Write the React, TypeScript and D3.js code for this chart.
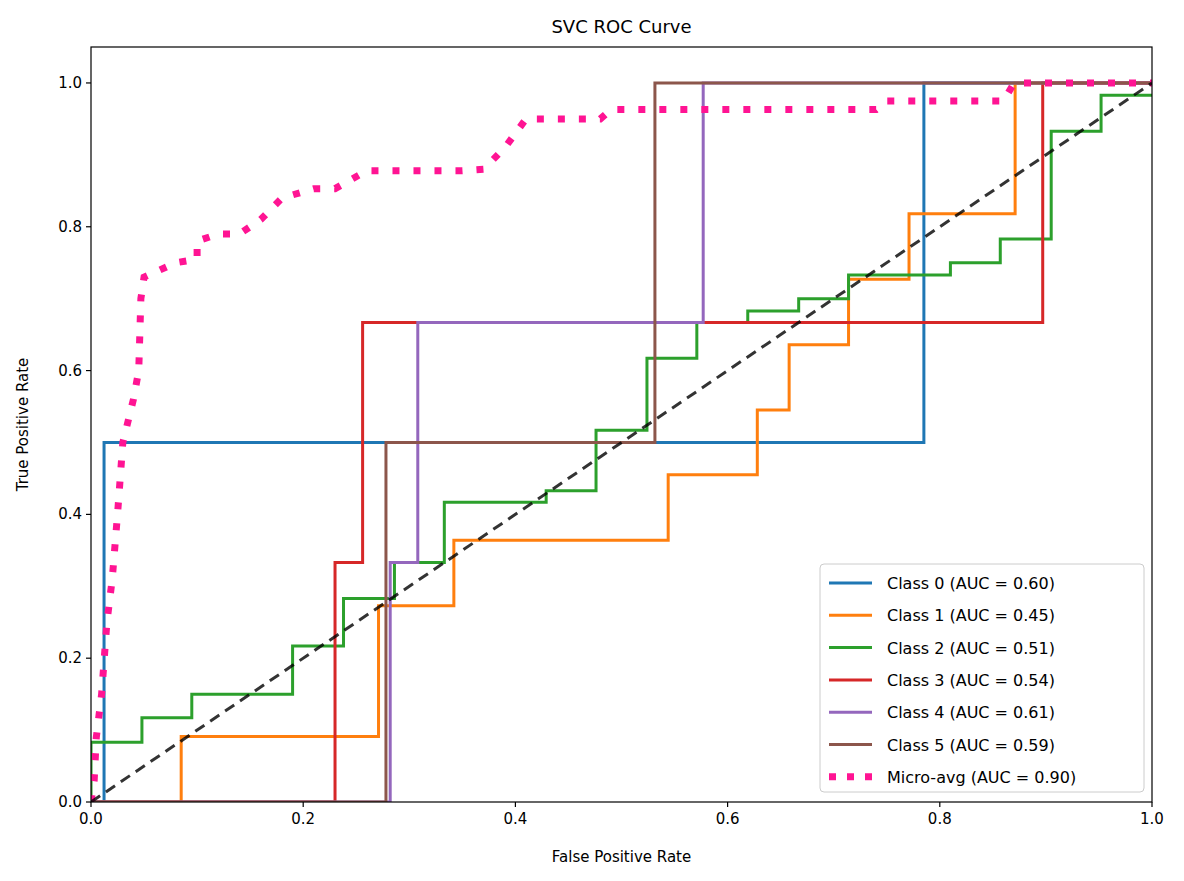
import * as d3 from 'd3';

type Pt = [number, number];

const classNames = ['Class 0', 'Class 1', 'Class 2', 'Class 3', 'Class 4', 'Class 5'];
const classAuc = [0.6, 0.45, 0.51, 0.54, 0.61, 0.59];
const classColors = ['#1f77b4', '#ff7f0e', '#2ca02c', '#d62728', '#9467bd', '#8c564b'];

const class0: Pt[] = [[0, 0], [0.0123, 0], [0.0123, 0.5], [0.785, 0.5], [0.785, 1], [1, 1]];
const class1: Pt[] = [[0, 0], [0.085, 0], [0.085, 0.091], [0.271, 0.091], [0.271, 0.273], [0.342, 0.273], [0.342, 0.364], [0.544, 0.364], [0.544, 0.455], [0.628, 0.455], [0.628, 0.545], [0.658, 0.545], [0.658, 0.636], [0.714, 0.636], [0.714, 0.727], [0.771, 0.727], [0.771, 0.818], [0.871, 0.818], [0.871, 1], [1, 1]];
const class2: Pt[] = [[0, 0], [0, 0.083], [0.048, 0.083], [0.048, 0.117], [0.095, 0.117], [0.095, 0.15], [0.19, 0.15], [0.19, 0.217], [0.238, 0.217], [0.238, 0.283], [0.286, 0.283], [0.286, 0.333], [0.333, 0.333], [0.333, 0.417], [0.429, 0.417], [0.429, 0.433], [0.476, 0.433], [0.476, 0.517], [0.524, 0.517], [0.524, 0.617], [0.571, 0.617], [0.571, 0.667], [0.619, 0.667], [0.619, 0.683], [0.667, 0.683], [0.667, 0.7], [0.714, 0.7], [0.714, 0.733], [0.81, 0.733], [0.81, 0.75], [0.857, 0.75], [0.857, 0.783], [0.905, 0.783], [0.905, 0.933], [0.952, 0.933], [0.952, 0.983], [1, 0.983]];
const class3: Pt[] = [[0, 0], [0.23, 0], [0.23, 0.333], [0.256, 0.333], [0.256, 0.667], [0.897, 0.667], [0.897, 1], [1, 1]];
const class4: Pt[] = [[0, 0], [0.282, 0], [0.282, 0.333], [0.308, 0.333], [0.308, 0.667], [0.577, 0.667], [0.577, 1], [1, 1]];
const class5: Pt[] = [[0, 0], [0.278, 0], [0.278, 0.5], [0.5315, 0.5], [0.5315, 1], [1, 1]];
const microAvg: Pt[] = [[0, 0], [0.003, 0.03], [0.005, 0.09], [0.01, 0.15], [0.015, 0.25], [0.02, 0.31], [0.025, 0.4], [0.03, 0.5], [0.04, 0.56], [0.045, 0.6], [0.047, 0.7], [0.05, 0.73], [0.08, 0.75], [0.1, 0.755], [0.1, 0.78], [0.12, 0.79], [0.14, 0.79], [0.16, 0.81], [0.18, 0.84], [0.21, 0.853], [0.23, 0.853], [0.26, 0.878], [0.35, 0.878], [0.37, 0.88], [0.39, 0.91], [0.41, 0.95], [0.48, 0.95], [0.49, 0.963], [0.74, 0.963], [0.75, 0.975], [0.86, 0.975], [0.87, 1], [1, 1]];
const microAuc = 0.9;

const classCurves = [class0, class1, class2, class3, class4, class5];
const ticks = [0, 0.2, 0.4, 0.6, 0.8, 1.0];

const W = 1184;
const H = 881;
const margin = { left: 91, right: 32, top: 47, bottom: 79 };
const font = 'DejaVu Sans, sans-serif';

export default function App() {
  const x = d3.scaleLinear().domain([0, 1]).range([margin.left, W - margin.right]);
  const y = d3.scaleLinear().domain([0, 1.05]).range([H - margin.bottom, margin.top]);
  const line = d3.line<Pt>().x(d => x(d[0])).y(d => y(d[1]));
  const y0 = y(0);

  const legendItems = [
    ...classNames.map((n, i) => ({ label: `${n} (AUC = ${classAuc[i].toFixed(2)})`, color: classColors[i], dotted: false })),
    { label: `Micro-avg (AUC = ${microAuc.toFixed(2)})`, color: '#ff1493', dotted: true },
  ];
  const lx = 820, ly = 564, rowH = 32.3;

  return (
    <svg width={W} height={H} style={{ position: 'absolute', left: 0, top: 0, background: '#fff' }} fontFamily={font}>
      <defs>
        <clipPath id="plot">
          <rect x={x(0)} y={y(1.05)} width={x(1) - x(0)} height={y(0) - y(1.05)} />
        </clipPath>
      </defs>
      <g clipPath="url(#plot)">
        {classCurves.map((c, i) => (
          <path key={i} d={line(c) ?? ''} fill="none" stroke={classColors[i]} strokeWidth={3} />
        ))}
        <path d={line(microAvg) ?? ''} fill="none" stroke="#ff1493" strokeWidth={7} strokeDasharray="7,14" />
        <path d={line([[0, 0], [1, 1]]) ?? ''} fill="none" stroke="#000" strokeOpacity={0.8} strokeWidth={3} strokeDasharray="11,7" />
      </g>
      <rect x={x(0)} y={y(1.05)} width={x(1) - x(0)} height={y(0) - y(1.05)} fill="none" stroke="#000" strokeWidth={1.2} />
      {ticks.map(t => (
        <g key={'x' + t}>
          <line x1={x(t)} x2={x(t)} y1={y0} y2={y0 + 5} stroke="#000" strokeWidth={1.2} />
          <text x={x(t)} y={y0 + 22} textAnchor="middle" fontSize={15}>{t.toFixed(1)}</text>
        </g>
      ))}
      {ticks.map(t => (
        <g key={'y' + t}>
          <line x1={x(0) - 5} x2={x(0)} y1={y(t)} y2={y(t)} stroke="#000" strokeWidth={1.2} />
          <text x={x(0) - 9} y={y(t) + 5} textAnchor="end" fontSize={15}>{t.toFixed(1)}</text>
        </g>
      ))}
      <text x={(x(0) + x(1)) / 2} y={862} textAnchor="middle" fontSize={15}>False Positive Rate</text>
      <text transform={`translate(28,${(y(0) + y(1.05)) / 2}) rotate(-90)`} textAnchor="middle" fontSize={15}>True Positive Rate</text>
      <text x={(x(0) + x(1)) / 2} y={33} textAnchor="middle" fontSize={18}>SVC ROC Curve</text>
      <rect x={lx} y={ly} width={324} height={228} rx={4} fill="#fff" fillOpacity={0.8} stroke="#ccc" />
      {legendItems.map((it, i) => {
        const cy = ly + 19 + i * rowH;
        return (
          <g key={it.label}>
            <line x1={lx + 9} x2={lx + 52} y1={cy} y2={cy} stroke={it.color}
              strokeWidth={it.dotted ? 7 : 3} strokeDasharray={it.dotted ? '7,11' : undefined} />
            <text x={lx + 67} y={cy + 6} fontSize={16}>{it.label}</text>
          </g>
        );
      })}
    </svg>
  );
}
